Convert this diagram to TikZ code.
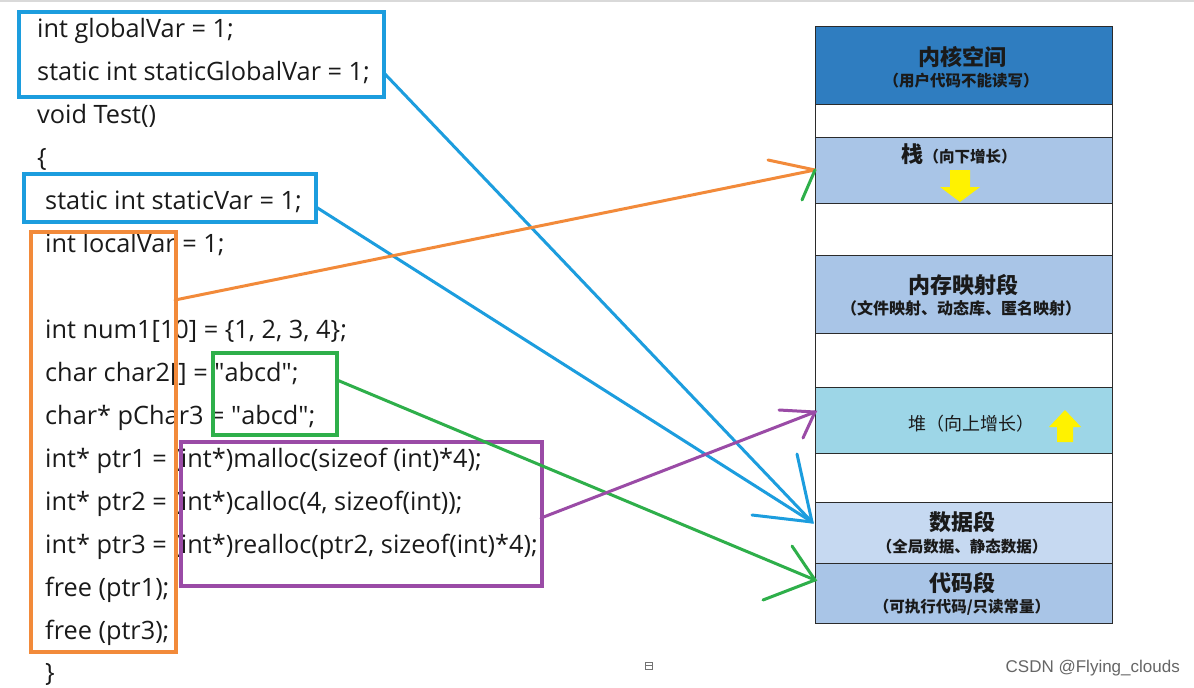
\documentclass[tikz,border=0pt]{standalone}
\usepackage{fontspec}
\setmainfont{Open Sans}
\newfontfamily\cjk{Noto Sans CJK SC}
\newfontfamily\wmfont{Liberation Sans}
\definecolor{kernc}{HTML}{2F7DC0}
\definecolor{stackc}{HTML}{A9C5E7}
\definecolor{heapc}{HTML}{9DD6E7}
\definecolor{datac}{HTML}{C6D9F1}
\definecolor{codec}{HTML}{A9C5E7}
\definecolor{segline}{HTML}{2B2B2B}
\definecolor{cblue}{HTML}{1C9DDE}
\definecolor{corange}{HTML}{F28A3A}
\definecolor{cgreen}{HTML}{2EAF4A}
\definecolor{cpurple}{HTML}{9A4BA6}
\definecolor{cyellow}{HTML}{FFF200}
\definecolor{txt}{HTML}{1A1A1A}
\newcommand{\dq}{\textquotedbl}
\begin{document}
\begin{tikzpicture}[x=1pt,y=-1pt,
  codeline/.style={anchor=base west, inner sep=0pt, text=txt, font=\fontsize{25.3}{25.3}\selectfont},
  hlbox/.style={draw=#1, line width=3.5pt, inner sep=0pt, anchor=north west},
  seg/.style={draw=segline, line width=1.3pt, inner sep=0pt, anchor=north west, minimum width=297pt},
  segtitle/.style={inner sep=0pt, text=txt, font=\cjk\bfseries\fontsize{22}{22}\selectfont},
  segsub/.style={inner sep=0pt, text=txt, font=\cjk\bfseries\fontsize{15.5}{15.5}\selectfont},
  conn/.style={draw=#1, line width=3pt, line cap=round},
  watermark/.style={inner sep=0pt, text=black!60, font=\wmfont\fontsize{17}{17}\selectfont}]
\useasboundingbox (0,0) rectangle (1194,688);
\fill[white] (0,0) rectangle (1194,688);
\draw[line width=2pt, draw=black!15] (0,1) -- (1194,1);

% ---- memory layout ----
\node[seg, fill=kernc, minimum height=78pt] (kern) at (815,26) {};
\node[seg, fill=white, minimum height=33pt] (gap1) at (815,104) {};
\node[seg, fill=stackc, minimum height=66pt] (stack) at (815,137) {};
\node[seg, fill=white, minimum height=52pt] (gap2) at (815,203) {};
\node[seg, fill=stackc, minimum height=78pt] (mmap) at (815,255) {};
\node[seg, fill=white, minimum height=54pt] (gap3) at (815,333) {};
\node[seg, fill=heapc, minimum height=66pt] (heap) at (815,387) {};
\node[seg, fill=white, minimum height=49pt] (gap4) at (815,453) {};
\node[seg, fill=datac, minimum height=61pt] (data) at (815,502) {};
\node[seg, fill=codec, minimum height=60pt] (code) at (815,563) {};

\node[segtitle] (kernt) at (962,57) {内核空间};
\node[segsub] (kerns) at (961,81) {（用户代码不能读写）};
\node[inner sep=0pt, text=txt, anchor=base] (stackt) at (959,162) {{\cjk\bfseries\fontsize{22}{22}\selectfont 栈}{\cjk\bfseries\fontsize{15.5}{15.5}\selectfont （向下增长）}};
\node[segtitle] (mmapt) at (963,285) {内存映射段};
\node[segsub, font=\cjk\bfseries\fontsize{16}{16}\selectfont] (mmaps) at (961,308) {（文件映射、动态库、匿名映射）};
\node[inner sep=0pt, text=txt, font=\cjk\fontsize{18}{18}\selectfont] (heapt) at (971,424) {堆（向上增长）};
\node[segtitle] (datat) at (962,522) {数据段};
\node[segsub] (datas) at (962,547) {（全局数据、静态数据）};
\node[segtitle] (codet) at (962,583) {代码段};
\node[segsub] (codes) at (962,607) {（可执行代码/只读常量）};

% yellow growth arrows
\fill[cyellow] (950,170) -- (970,170) -- (970,187) -- (980,187) -- (960,202) -- (940,187) -- (950,187) -- cycle;
\fill[cyellow] (1057,442) -- (1073,442) -- (1073,427) -- (1081,427) -- (1065,410) -- (1049,427) -- (1057,427) -- cycle;

% ---- code ----
\node[codeline] (l1) at (37,37) {int globalVar = 1;};
\node[codeline] (l2) at (37,80) {static int staticGlobalVar = 1;};
\node[codeline] (l3) at (37,123) {void Test()};
\node[codeline] (l4) at (37,166) {\{};
\node[codeline] (l5) at (45,209) {static int staticVar = 1;};
\node[codeline] (l6) at (45,252) {int localVar = 1;};
\node[codeline] (l7) at (45,338) {int num1[10] = \{1, 2, 3, 4\};};
\node[codeline] (l8) at (45,381) {char char2[] = \dq abcd\dq;};
\node[codeline] (l9) at (45,424) {char* pChar3 = \dq abcd\dq;};
\node[codeline] (l10) at (45,467) {int* ptr1 = (int*)malloc(sizeof (int)*4);};
\node[codeline] (l11) at (45,510) {int* ptr2 = (int*)calloc(4, sizeof(int));};
\node[codeline] (l12) at (45,553) {int* ptr3 = (int*)realloc(ptr2, sizeof(int)*4);};
\node[codeline] (l13) at (45,596) {free (ptr1);};
\node[codeline] (l14) at (45,639) {free (ptr3);};
\node[codeline] (l15) at (45,681) {\}};

% highlight boxes
\node[hlbox=cblue, minimum width=365pt, minimum height=85pt] (gbox) at (17,10) {};
\node[hlbox=cblue, minimum width=292pt, minimum height=48pt] (sbox) at (22,172) {};
\node[hlbox=corange, minimum width=145pt, minimum height=420pt] (obox) at (29,230) {};
\node[hlbox=cgreen, minimum width=124pt, minimum height=82pt] (grbox) at (211,351) {};
\node[hlbox=cpurple, minimum width=361pt, minimum height=144pt] (pbox) at (179,440) {};

% connector end points
\coordinate (gs) at (384,73);
\coordinate (ss) at (316,207);
\coordinate (os) at (175,300);
\coordinate (grs) at (337,380);
\coordinate (ps) at (541,518);
\coordinate (tipData) at (812,522);
\coordinate (tipStack) at (815,170);
\coordinate (tipCode) at (815,580);
\coordinate (tipHeap) at (815,412);
\coordinate (hd1) at (797,454);
\coordinate (hd2) at (752,515);
\coordinate (hs1) at (768,160);
\coordinate (hs2) at (802,200);
\coordinate (hc1) at (792,546);
\coordinate (hc2) at (763,600);
\coordinate (hh1) at (779,410);
\coordinate (hh2) at (803,438);

% connectors
\draw[conn=cblue] (gs) -- (tipData);
\draw[conn=cblue] (ss) -- (tipData);
\draw[conn=cblue] (hd1) -- (tipData) -- (hd2);
\draw[conn=corange] (os) -- (tipStack);
\draw[conn=corange] (hs1) -- (tipStack);
\draw[conn=cgreen] (hs2) -- (tipStack);
\draw[conn=cgreen] (grs) -- (tipCode);
\draw[conn=cgreen] (hc1) -- (tipCode) -- (hc2);
\draw[conn=cpurple] (ps) -- (tipHeap);
\draw[conn=cpurple] (hh1) -- (tipHeap) -- (hh2);

% small icon and watermark
\draw[black!55, line width=0.8pt] (645,662) rectangle (652,669);
\draw[black!55, line width=0.8pt] (645,665) -- (652,665);
\node[watermark, anchor=east] (wm) at (1180,668) {CSDN @Flying\_clouds};
\end{tikzpicture}
\end{document}
